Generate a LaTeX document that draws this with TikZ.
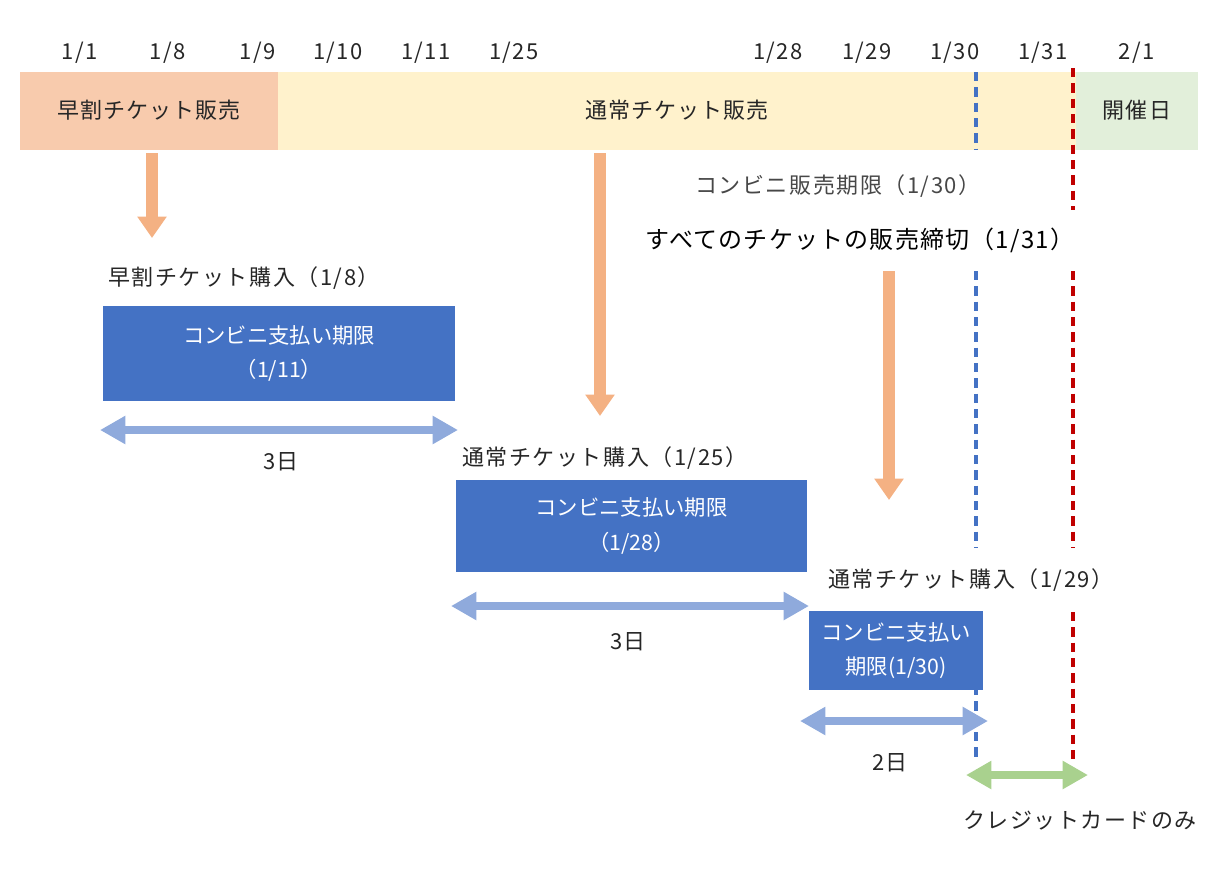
\documentclass[tikz,border=0pt]{standalone}
\usepackage{fontspec}
\setmainfont{Noto Sans CJK JP}
\newfontfamily\spfont{Noto Sans CJK JP}[LetterSpace=7]
\newfontfamily\spfontb{Noto Sans CJK JP}[LetterSpace=5]
\usetikzlibrary{arrows.meta}
\definecolor{earlyc}{HTML}{F8CBAD}
\definecolor{normc}{HTML}{FFF2CC}
\definecolor{eventc}{HTML}{E2EFDA}
\definecolor{boxc}{HTML}{4472C4}
\definecolor{spanc}{HTML}{8FAADC}
\definecolor{orc}{HTML}{F4B183}
\definecolor{grc}{HTML}{A9D18E}
\definecolor{redc}{HTML}{C00000}
\definecolor{txtc}{HTML}{262626}
\tikzset{
  lbl/.style={font=\spfont\fontsize{16.5}{19}\selectfont, text=txtc, inner sep=0pt},
  date/.style={lbl},
  bar/.style={draw=none, inner sep=0pt, font=\spfontb\fontsize{16.5}{19}\selectfont, text=txtc},
  paybox/.style={fill=boxc, draw=none, inner sep=0pt, text=white, font=\fontsize{16}{26}\selectfont, align=center},
  down/.style={orc, line width=9pt, -{Triangle[length=16pt,width=21pt]}},
  span/.style={spanc, line width=5.5pt, {Triangle[length=19pt,width=20pt]}-{Triangle[length=19pt,width=20pt]}},
  cred/.style={grc, line width=5.5pt, {Triangle[length=19pt,width=20pt]}-{Triangle[length=19pt,width=20pt]}},
  bdash/.style={boxc, line width=2.6pt, dash pattern=on 7pt off 4.5pt},
  rdash/.style={redc, line width=2.6pt, dash pattern=on 7pt off 4.5pt},
}
\begin{document}
\begin{tikzpicture}[x=0.75pt,y=-0.75pt]
\useasboundingbox (0,0) rectangle (1226,868);
% dates
\node[date] (d1) at (80,53) {1/1};
\node[date] (d2) at (168,53) {1/8};
\node[date] (d3) at (258,53) {1/9};
\node[date] (d4) at (338,53) {1/10};
\node[date] (d5) at (426,53) {1/11};
\node[date] (d6) at (514,53) {1/25};
\node[date] (d7) at (778,53) {1/28};
\node[date] (d8) at (867,53) {1/29};
\node[date] (d9) at (955,53) {1/30};
\node[date] (d10) at (1043,53) {1/31};
\node[date] (d11) at (1137,53) {2/1};
% bar
\fill[normc] (278,72) rectangle (1076,150);
\fill[earlyc] (20,72) rectangle (278,150);
\fill[eventc] (1076,72) rectangle (1198,150);
\node[bar] (early) at (149,110) {早割チケット販売};
\node[bar] (normal) at (677,110) {通常チケット販売};
\node[bar] (event) at (1137,110) {開催日};
% dashed lines
\coordinate (b0) at (976,72);
\coordinate (b1) at (976,150);
\coordinate (b2) at (976,271);
\coordinate (b3) at (976,548);
\coordinate (b4) at (976,686);
\coordinate (b5) at (976,762);
\draw[bdash] (b0) -- (b1);
\draw[bdash] (b2) -- (b3);
\draw[bdash] (b4) -- (b5);
\coordinate (r0) at (1073,68);
\coordinate (r1) at (1073,210);
\coordinate (r2) at (1073,271);
\coordinate (r3) at (1073,548);
\coordinate (r4) at (1073,612);
\coordinate (r5) at (1073,762);
\draw[rdash] (r0) -- (r1);
\draw[rdash] (r2) -- (r3);
\draw[rdash] (r4) -- (r5);
% deadline labels
\node[lbl, text=txtc!85] (conv) at (838,186) {コンビニ販売期限（1/30）};
\node[lbl, text=black, font=\spfontb\fontsize{18}{22}\selectfont] (all) at (860,240) {すべてのチケットの販売締切（1/31）};
% orange arrows
\coordinate (a1s) at (152,153);
\coordinate (a1e) at (152,238);
\draw[down] (a1s) -- (a1e);
\coordinate (a2s) at (600,153);
\coordinate (a2e) at (600,416);
\draw[down] (a2s) -- (a2e);
\coordinate (a3s) at (889,271);
\coordinate (a3e) at (889,500);
\draw[down] (a3s) -- (a3e);
% purchase 1
\node[lbl, anchor=west] (p1) at (108,278) {早割チケット購入（1/8）};
\node[paybox, minimum width=352*0.75pt, minimum height=95*0.75pt] (box1) at (279,353.5) {コンビニ支払い期限\\（1/11）};
\coordinate (s1a) at (100,430);
\coordinate (s1b) at (458,430);
\draw[span] (s1a) -- (s1b);
\node[lbl] (t1) at (281,462) {3日};
% purchase 2
\node[lbl, anchor=west] (p2) at (462,458) {通常チケット購入（1/25）};
\node[paybox, minimum width=351*0.75pt, minimum height=92*0.75pt] (box2) at (631.5,526) {コンビニ支払い期限\\（1/28）};
\coordinate (s2a) at (451,606);
\coordinate (s2b) at (809,606);
\draw[span] (s2a) -- (s2b);
\node[lbl] (t2) at (628,642) {3日};
% purchase 3
\node[lbl, anchor=west] (p3) at (828,580) {通常チケット購入（1/29）};
\node[paybox, minimum width=174*0.75pt, minimum height=79*0.75pt] (box3) at (896,650.5) {コンビニ支払い\\期限(1/30)};
\coordinate (s3a) at (800,721);
\coordinate (s3b) at (988,721);
\draw[span] (s3a) -- (s3b);
\node[lbl] (t3) at (890,763) {2日};
% credit only
\coordinate (c1) at (966,775);
\coordinate (c2) at (1088,775);
\draw[cred] (c1) -- (c2);
\node[lbl] (cr) at (1080,820) {クレジットカードのみ};
\end{tikzpicture}
\end{document}
